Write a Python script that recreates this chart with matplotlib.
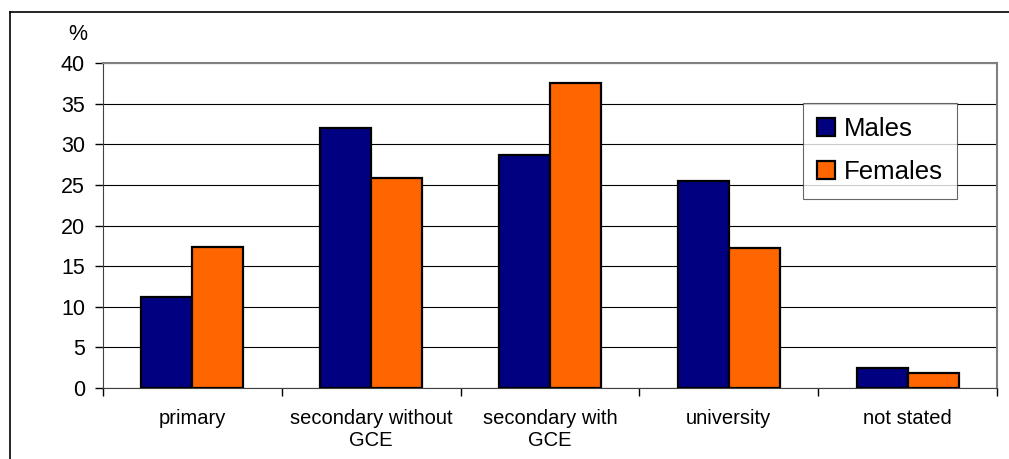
import numpy as np
import matplotlib.pyplot as plt
from matplotlib.lines import Line2D

plt.rcParams['font.family'] = ['Liberation Sans', 'DejaVu Sans']

categories = ['primary', 'secondary without\nGCE', 'secondary with\nGCE', 'university', 'not stated']
males = [11.2, 32.0, 28.7, 25.5, 2.5]
females = [17.3, 25.9, 37.5, 17.2, 1.9]
y_ticks = [0, 5, 10, 15, 20, 25, 30, 35, 40]

navy = '#000080'
orange = '#FF6600'

fig = plt.figure(figsize=(10.09, 4.59), dpi=100)
ax = fig.add_axes([103 / 1009, 1 - 388 / 459, 894 / 1009, 325 / 459])

x = np.arange(len(categories))
w = 1 / 3.5
ax.bar(x - w / 2, males, w, color=navy, edgecolor='black', linewidth=1.6, label='Males', zorder=3)
ax.bar(x + w / 2, females, w, color=orange, edgecolor='black', linewidth=1.6, label='Females', zorder=3)

ax.set_xlim(-0.5, len(categories) - 0.5)
ax.set_ylim(0, 40)
ax.set_yticks(y_ticks)
ax.tick_params(axis='y', labelsize=15.5, length=6, width=1, pad=7)
ax.yaxis.grid(True, color='black', linewidth=0.8, zorder=0)

# ticks between categories, labels centred under each group
ax.set_xticks(np.arange(len(categories) + 1) - 0.5)
ax.set_xticklabels([])
ax.set_xticks(x, minor=True)
ax.set_xticklabels(categories, minor=True, fontsize=14.5, linespacing=1.2)
ax.tick_params(axis='x', which='major', length=6, width=1)
ax.tick_params(axis='x', which='minor', length=0, pad=15)

for side in ['top', 'right']:
    ax.spines[side].set_color('#808080')
    ax.spines[side].set_linewidth(1.5)
ax.spines['left'].set_color('#404040')
ax.spines['bottom'].set_color('#404040')

fig.text(78 / 1009, 1 - 34 / 459, '%', fontsize=15.5, ha='center', va='center')

leg = ax.legend(loc='upper left', bbox_to_anchor=(0.783, 0.877), fontsize=18.5,
                frameon=True, fancybox=False, shadow=False, borderpad=0.55,
                handlelength=0.7, handleheight=0.7, handletextpad=0.35,
                labelspacing=0.75, borderaxespad=0)
leg.get_frame().set_edgecolor('#404040')
leg.get_frame().set_linewidth(0.8)
leg.set_zorder(5)

# chart frame
fig.add_artist(Line2D([10 / 1009, 1], [1 - 12 / 459] * 2, color='black', linewidth=1.2))
fig.add_artist(Line2D([10 / 1009] * 2, [0, 1 - 12 / 459], color='black', linewidth=1.2))

fig.savefig('out.png', dpi=100)
